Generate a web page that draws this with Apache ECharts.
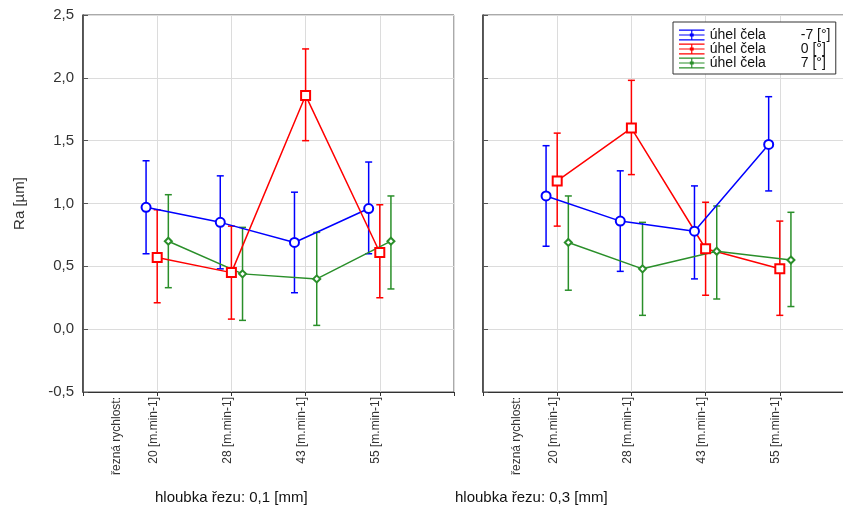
<!DOCTYPE html>
<html>
<head>
<meta charset="utf-8">
<script src="https://cdn.jsdelivr.net/npm/echarts@6/dist/echarts.min.js"></script>
<style>
html,body{margin:0;padding:0;background:#fff;}
#c{width:843px;height:512px;}
</style>
</head>
<body>
<div id="c"></div>
<script>
// ---- data ----
var categories = ['20 [m.min-1]', '28 [m.min-1]', '43 [m.min-1]', '55 [m.min-1]'];
var axisLeadLabel = 'řezná rychlost:';
var yTicks = [-0.5, 0.0, 0.5, 1.0, 1.5, 2.0, 2.5];
var seriesNames = ['-7', '0', '7'];
var panelTitles = ['hloubka řezu: 0,1 [mm]', 'hloubka řezu: 0,3 [mm]'];

// depth 0.1 mm
var blueMean01 = [0.97, 0.85, 0.69, 0.96];
var blueLo01   = [0.60, 0.48, 0.29, 0.60];
var blueHi01   = [1.34, 1.22, 1.09, 1.33];
var redMean01  = [0.57, 0.45, 1.86, 0.61];
var redLo01    = [0.21, 0.08, 1.50, 0.25];
var redHi01    = [0.95, 0.82, 2.23, 0.99];
var greenMean01 = [0.70, 0.44, 0.40, 0.70];
var greenLo01   = [0.33, 0.07, 0.03, 0.32];
var greenHi01   = [1.07, 0.81, 0.77, 1.06];

// depth 0.3 mm
var blueMean03 = [1.06, 0.86, 0.78, 1.47];
var blueLo03   = [0.66, 0.46, 0.40, 1.10];
var blueHi03   = [1.46, 1.26, 1.14, 1.85];
var redMean03  = [1.18, 1.60, 0.64, 0.48];
var redLo03    = [0.82, 1.23, 0.27, 0.11];
var redHi03    = [1.56, 1.98, 1.01, 0.86];
var greenMean03 = [0.69, 0.48, 0.62, 0.55];
var greenLo03   = [0.31, 0.11, 0.24, 0.18];
var greenHi03   = [1.06, 0.85, 0.98, 0.93];

// ---- styling ----
var colors = ['#0000ff', '#ff0000', '#2a8f2a'];
var symbols = ['emptyCircle', 'emptyRect', 'emptyDiamond'];
var symbolSizes = [9, 9, 7];
var offsets = [-0.15, 0.0, 0.15];
var FONT = 'Liberation Sans, Arial, sans-serif';

var panels = [
  { means: [blueMean01, redMean01, greenMean01], lo: [blueLo01, redLo01, greenLo01], hi: [blueHi01, redHi01, greenHi01] },
  { means: [blueMean03, redMean03, greenMean03], lo: [blueLo03, redLo03, greenLo03], hi: [blueHi03, redHi03, greenHi03] }
];

var chart = echarts.init(document.getElementById('c'), null, {renderer: 'canvas'});

function fmtNum(v) { return v.toFixed(1).replace('.', ','); }

var grids = [
  { left: 83, top: 15, width: 371, height: 377, show: true, borderColor: '#555', borderWidth: 1, backgroundColor: '#fff', outerBoundsMode: 'none', containLabel: false },
  { left: 483, top: 15, width: 371, height: 377, show: true, borderColor: '#555', borderWidth: 1, backgroundColor: '#fff', outerBoundsMode: 'none', containLabel: false }
];

var xAxes = [0, 1].map(function (g) {
  return {
    type: 'value', gridIndex: g, min: 0, max: 5, interval: 1,
    axisLine: { show: true, onZero: false, lineStyle: { color: '#333', width: 1 } },
    axisTick: { show: true, length: 4, lineStyle: { color: '#333' } },
    splitLine: { show: true, lineStyle: { color: '#dcdcdc', width: 1 } },
    axisLabel: {
      rotate: 90, fontSize: 12, color: '#333', fontFamily: FONT, margin: 5,
      customValues: [0.46, 0.95, 1.95, 2.95, 3.95],
      formatter: function (v) {
        if (v < 0.9) return axisLeadLabel;
        var i = Math.round(v) - 1;
        return (i >= 0 && i < categories.length) ? categories[i] : '';
      }
    }
  };
});

var yAxes = [0, 1].map(function (g) {
  return {
    type: 'value', gridIndex: g, min: yTicks[0], max: yTicks[yTicks.length - 1], interval: 0.5,
    name: g === 0 ? 'Ra [µm]' : '', nameLocation: 'middle', nameGap: 56, nameRotate: 90,
    nameTextStyle: { fontSize: 15, color: '#333', fontFamily: FONT },
    axisLine: { show: true, onZero: false, lineStyle: { color: '#333', width: 1.5 } },
    axisTick: { show: true, inside: true, length: 5, lineStyle: { color: '#555' } },
    splitLine: { show: true, lineStyle: { color: '#dcdcdc', width: 1 } },
    axisLabel: {
      show: g === 0, fontSize: 15, color: '#333', margin: 9, fontFamily: FONT,
      formatter: function (v) { return fmtNum(v); }
    }
  };
});

var series = [];
panels.forEach(function (p, g) {
  for (var s = 0; s < 3; s++) {
    (function (s) {
      var pts = p.means[s].map(function (m, i) { return [i + 1 + offsets[s], m]; });
      var bars = p.means[s].map(function (m, i) { return [i + 1 + offsets[s], p.lo[s][i], p.hi[s][i]]; });
      series.push({
        type: 'custom', name: seriesNames[s], xAxisIndex: g, yAxisIndex: g,
        data: bars, z: 2, silent: true,
        renderItem: function (params, api) {
          var x = api.value(0);
          var a = api.coord([x, api.value(1)]);
          var b = api.coord([x, api.value(2)]);
          var cw = 3.5;
          var st = { stroke: colors[s], lineWidth: 1.5 };
          return {
            type: 'group', children: [
              { type: 'line', shape: { x1: a[0], y1: a[1], x2: b[0], y2: b[1] }, style: st },
              { type: 'line', shape: { x1: a[0] - cw, y1: a[1], x2: a[0] + cw, y2: a[1] }, style: st },
              { type: 'line', shape: { x1: b[0] - cw, y1: b[1], x2: b[0] + cw, y2: b[1] }, style: st }
            ]
          };
        }
      });
      series.push({
        type: 'line', name: seriesNames[s], xAxisIndex: g, yAxisIndex: g,
        data: pts, z: 3,
        symbol: symbols[s], symbolSize: symbolSizes[s],
        itemStyle: { color: colors[s], borderWidth: 1.3 },
        lineStyle: { color: colors[s], width: 1.5 },
        animation: false
      });
    })(s);
  }
});

var iconPath = 'path://M0,0H26V1.2H0Z M0,5H26V6.2H0Z M0,10H26V11.2H0Z M12.4,0H13.6V11.2H12.4Z M11,4H15V7.2H11Z';

chart.setOption({
  animation: false,
  backgroundColor: '#fff',
  title: [
    { text: panelTitles[0], left: 155, top: 490, padding: 0, textStyle: { fontSize: 15, fontWeight: 'normal', color: '#111', fontFamily: FONT } },
    { text: panelTitles[1], left: 455, top: 490, padding: 0, textStyle: { fontSize: 15, fontWeight: 'normal', color: '#111', fontFamily: FONT } }
  ],
  legend: {
    left: 673, top: 22, orient: 'vertical', itemGap: 0,
    itemWidth: 26, itemHeight: 11,
    padding: [6, 3, 4, 6],
    backgroundColor: '#fff', borderColor: '#333', borderWidth: 1, borderRadius: 0,
    selectedMode: false,
    data: seriesNames.map(function (n, i) {
      return { name: n, icon: iconPath, itemStyle: { color: colors[i], borderWidth: 0 } };
    }),
    formatter: function (n) { return '{a|úhel čela}{b|' + n + ' [°]}'; },
    textStyle: {
      fontSize: 14, color: '#111', fontFamily: FONT,
      rich: {
        a: { width: 91, fontSize: 14, lineHeight: 12, fontFamily: FONT, color: '#111' },
        b: { width: 32, fontSize: 14, lineHeight: 12, fontFamily: FONT, color: '#111' }
      }
    }
  },
  grid: grids,
  xAxis: xAxes,
  yAxis: yAxes,
  series: series
});
</script>
</body>
</html>
